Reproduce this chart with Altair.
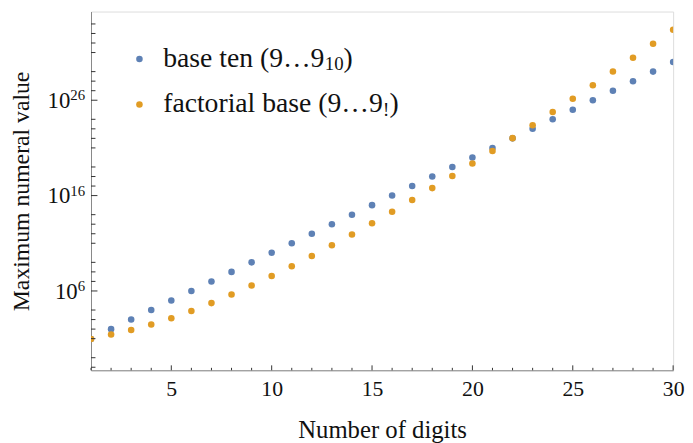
import altair as alt
import pandas as pd

# ---------------- data ----------------
digits = list(range(1, 31))
base_ten = [9, 99, 999, 9999, 99999, 999999, 9999999, 99999999, 999999999,
            9999999999, 99999999999, 999999999999, 9999999999999,
            99999999999999, 999999999999999, 1e16, 1e17, 1e18, 1e19, 1e20,
            1e21, 1e22, 1e23, 1e24, 1e25, 1e26, 1e27, 1e28, 1e29, 1e30]
factorial_base = [9, 27, 81, 297, 1377, 7857, 53217, 416097, 3682017,
                  36341217, 395592417, 4706606817, 60749794017,
                  845354414817, 12614423726817, 2.009195e14, 3.402106e15,
                  6.102347e16, 1.155829e18, 2.305195e19, 4.828704e20,
                  1.059888e22, 2.432670e23, 5.827303e24, 1.454282e26,
                  3.775051e27, 1.017749e29, 2.845770e30, 8.242163e31,
                  2.469697e33]
series_names = ["base ten", "factorial base"]
series_colors = ["#5E81B5", "#E19C24"]

x_major = [5, 10, 15, 20, 25, 30]
x_minor = [1, 2, 3, 4, 6, 7, 8, 9, 11, 12, 13, 14, 16, 17, 18, 19, 21, 22,
           23, 24, 26, 27, 28, 29]
y_major_exp = [6, 16, 26]
y_minor_exp = [-2, -1, 1, 2, 3, 4, 7, 8, 9, 11, 12, 13, 14, 17, 18, 19, 21,
               22, 23, 24, 27, 28, 29, 31, 32, 33, 34]

FONT = "Liberation Serif, 'DejaVu Serif', serif"
W, H = 589, 363
Y_DOMAIN = [10 ** -2.32, 10 ** 35.3]

df = pd.DataFrame({
    "digits": digits + digits,
    "value": base_ten + factorial_base,
    "series": [series_names[0]] * len(digits) + [series_names[1]] * len(digits),
})
one = pd.DataFrame({"k": [0]})

xs = alt.Scale(domain=[1, 30], nice=False, zero=False)
ys = alt.Scale(type="log", domain=Y_DOMAIN, nice=False)

points = alt.Chart(df).mark_circle(size=44, opacity=1, clip=True).encode(
    x=alt.X("digits:Q", scale=xs, title="Number of digits",
            axis=alt.Axis(values=x_major, ticks=False, tickSize=0, grid=False,
                          domainColor="#888888", domainWidth=1,
                          labelFont=FONT, labelFontSize=22, labelColor="#111",
                          labelPadding=9, labelFlush=False,
                          titleFont=FONT, titleFontSize=25, titleFontWeight="normal",
                          titleColor="#111", titlePadding=18)),
    y=alt.Y("value:Q", scale=ys, title="Maximum numeral value",
            axis=alt.Axis(labels=False, ticks=False, tickSize=0, grid=False,
                          domainColor="#888888", domainWidth=1,
                          titleFont=FONT, titleFontSize=24, titleFontWeight="normal",
                          titleColor="#111", titlePadding=58)),
    color=alt.Color("series:N", scale=alt.Scale(domain=series_names, range=series_colors),
                    legend=None),
)

TICK = "#333333"

xminor_df = pd.DataFrame({"t": x_minor})
xmajor_df = pd.DataFrame({"t": x_major})
yminor_df = pd.DataFrame({"t": [10.0 ** e for e in y_minor_exp]})
ymajor_df = pd.DataFrame({"t": [10.0 ** e for e in y_major_exp],
                          "exp": [str(e) for e in y_major_exp]})

xminor = alt.Chart(xminor_df).mark_rule(color=TICK, strokeWidth=1).encode(
    x=alt.X("t:Q", scale=xs), y=alt.value(H), y2=alt.value(H - 2.5))
xmajor = alt.Chart(xmajor_df).mark_rule(color=TICK, strokeWidth=1).encode(
    x=alt.X("t:Q", scale=xs), y=alt.value(H), y2=alt.value(H - 5))
yminor = alt.Chart(yminor_df).mark_rule(color=TICK, strokeWidth=1).encode(
    y=alt.Y("t:Q", scale=ys), x=alt.value(0), x2=alt.value(4.5))
ymajor = alt.Chart(ymajor_df).mark_rule(color=TICK, strokeWidth=1).encode(
    y=alt.Y("t:Q", scale=ys), x=alt.value(0), x2=alt.value(6.5))

ylab_exp = alt.Chart(ymajor_df).mark_text(
    font=FONT, fontSize=15, align="right", baseline="alphabetic", color="#111", dy=0
).encode(y=alt.Y("t:Q", scale=ys), x=alt.value(-6), text="exp:N")

ylab_ten = alt.Chart(ymajor_df).transform_calculate(
    xp="-6 - 7.5 * length(datum.exp)"
).mark_text(
    font=FONT, fontSize=23, align="right", baseline="alphabetic", color="#111", dy=8
).encode(y=alt.Y("t:Q", scale=ys), x=alt.X("xp:Q", scale=None), text=alt.value("10"))

# ---------------- legend (decoration) ----------------
LEG_FS = 28
SUB_FS = 19


def txt(x, y, s, size):
    return alt.Chart(one).mark_text(font=FONT, fontSize=size, align="left",
                                    baseline="alphabetic", color="#111").encode(
        x=alt.value(x), y=alt.value(y), text=alt.value(s))


def legend_row(color, y, main, sub, sub_x, close_x):
    dot = alt.Chart(one).mark_circle(size=44, opacity=1, color=color).encode(
        x=alt.value(49), y=alt.value(y))
    return [dot, txt(73, y + 8, main, LEG_FS), txt(sub_x, y + 11.5, sub, SUB_FS),
            txt(close_x, y + 8, ")", LEG_FS)]


leg = legend_row(series_colors[0], 48, "base ten (9…9", "10", 236.5, 255.5) + \
      legend_row(series_colors[1], 94, "factorial base (9…9", "!", 295.5, 302)

chart = alt.layer(
    points, xminor, xmajor, yminor, ymajor, ylab_exp, ylab_ten, *leg
).properties(
    width=W, height=H,
    autosize=alt.AutoSizeParams(type="none"),
    padding={"left": 84, "top": 1, "right": 12, "bottom": 73},
).configure_view(stroke=None).configure(background="white")

chart.save("out.html", embed_options={"renderer": "svg", "actions": False})
